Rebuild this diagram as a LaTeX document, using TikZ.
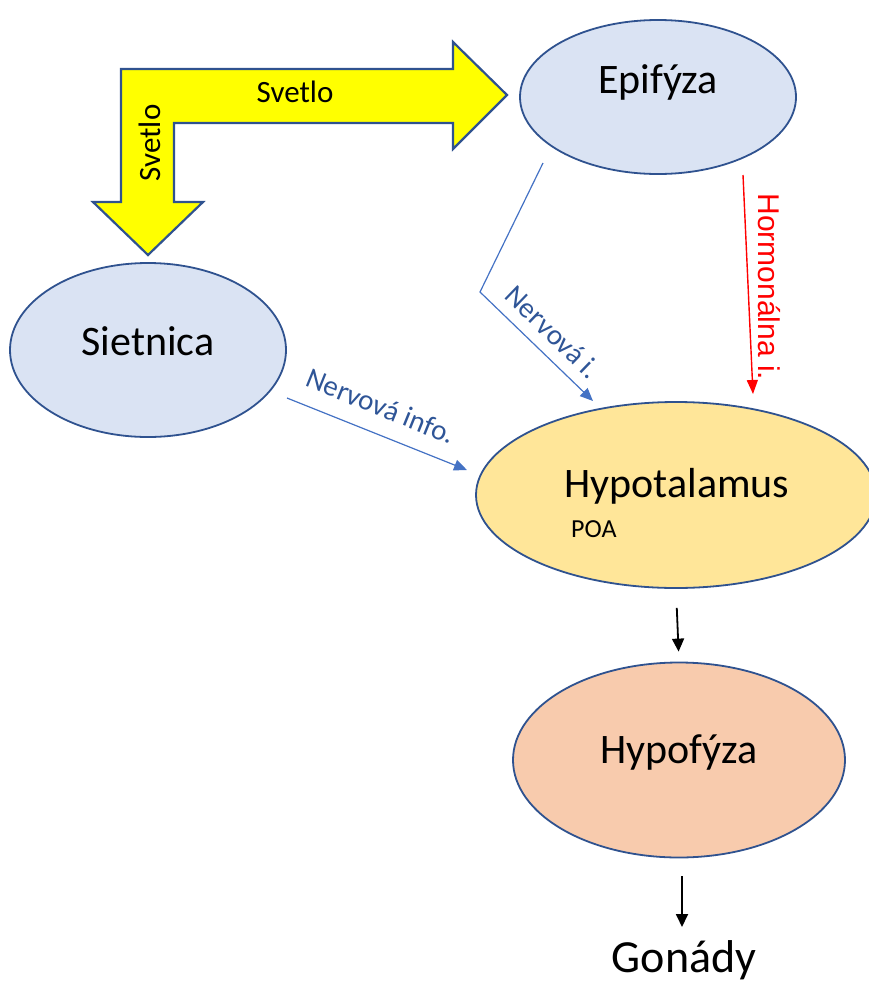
\documentclass[tikz,border=0pt]{standalone}
\usepackage{fontspec}
\setmainfont{Carlito}
\newfontfamily\arialf{Liberation Sans}
\usetikzlibrary{shapes.geometric,arrows.meta}
\definecolor{edgeblue}{HTML}{2F528F}
\definecolor{lightblue}{HTML}{DAE3F3}
\definecolor{hypoyel}{HTML}{FFE699}
\definecolor{hypopeach}{HTML}{F8CBAD}
\definecolor{linkblue}{HTML}{4472C4}
\definecolor{labelblue}{HTML}{2F5597}
\definecolor{lightyel}{HTML}{FFFF00}
\begin{document}
\begin{tikzpicture}[x=1pt,y=-1pt,
  organ/.style={ellipse, draw=edgeblue, line width=1.8pt, inner sep=0pt},
  bigtxt/.style={font=\fontsize{42}{46}\selectfont, anchor=base, inner sep=0pt},
  lbl/.style={font=\fontsize{29}{32}\selectfont, text=labelblue, inner sep=0pt},
  nerve/.style={draw=linkblue, line width=1.2pt, -{Triangle[length=13pt,width=11pt]}},
  horm/.style={draw=red, line width=1.4pt, -{Triangle[length=14pt,width=11pt]}},
  down/.style={draw=black, line width=1.8pt, -{Triangle[length=13pt,width=12pt]}},
  lightarrow/.style={fill=lightyel, draw=edgeblue, line width=2.2pt, line join=miter}]
\useasboundingbox (0,0) rectangle (869,983);

% bent light arrow
\draw[lightarrow] (121,69) -- (453,69) -- (453,42) -- (507,95) -- (453,149) -- (453,123)
  -- (174,123) -- (174,202) -- (203,202) -- (148,255) -- (93,202) -- (121,202) -- cycle;
\node[font=\fontsize{31}{34}\selectfont, anchor=base, inner sep=0pt] (sv1) at (295,102) {Svetlo};
\node[font=\fontsize{31}{34}\selectfont, rotate=90, inner sep=0pt] (sv2) at (150,143) {Svetlo};

% organs
\node[organ, fill=lightblue, minimum width=276pt, minimum height=154pt] (epi) at (658,97) {};
\node[bigtxt] (epiT) at (658,93) {Epifýza};
\node[organ, fill=lightblue, minimum width=276pt, minimum height=174pt] (sie) at (148,350) {};
\node[bigtxt] (sieT) at (148,355) {Sietnica};
\node[organ, fill=hypoyel, minimum width=400pt, minimum height=186pt] (hyp) at (676,495) {};
\node[bigtxt] (hypT) at (677,497) {Hypotalamus};
\node[font=\fontsize{26}{30}\selectfont, anchor=base west, inner sep=0pt] (poa) at (571,537) {POA};
\node[organ, fill=hypopeach, minimum width=332pt, minimum height=195pt] (hyf) at (679,760) {};
\node[bigtxt] (hyfT) at (679,763) {Hypofýza};
\node[font=\fontsize{46}{50}\selectfont, anchor=base, inner sep=0pt] (gon) at (684,972) {Gonády};

% nerve connectors
\coordinate (n1) at (543,163);
\coordinate (n2) at (480,292);
\coordinate (n3) at (593,401);
\draw[nerve] (n1) -- (n2) -- (n3);
\node[lbl, rotate=-44] (lab1) at (553,332) {Nervová i.};

\coordinate (s1) at (287,398);
\coordinate (s2) at (467,470);
\draw[nerve] (s1) -- (s2);
\node[lbl, rotate=-22] (lab2) at (381,406) {Nervová info.};

% hormonal
\coordinate (h1) at (743,175);
\coordinate (h2) at (753,394);
\draw[horm] (h1) -- (h2);
\node[font=\arialf\fontsize{30}{33}\selectfont, text=red, rotate=-90, inner sep=0pt] (lab3) at (769,287) {Hormonálna i.};

% downward arrows
\draw[down, shorten <=19pt, shorten >=10pt] (hyp.south) -- (hyf.north);
\coordinate (g1) at (682,876);
\coordinate (g2) at (682,927);
\draw[down] (g1) -- (g2);
\end{tikzpicture}
\end{document}
